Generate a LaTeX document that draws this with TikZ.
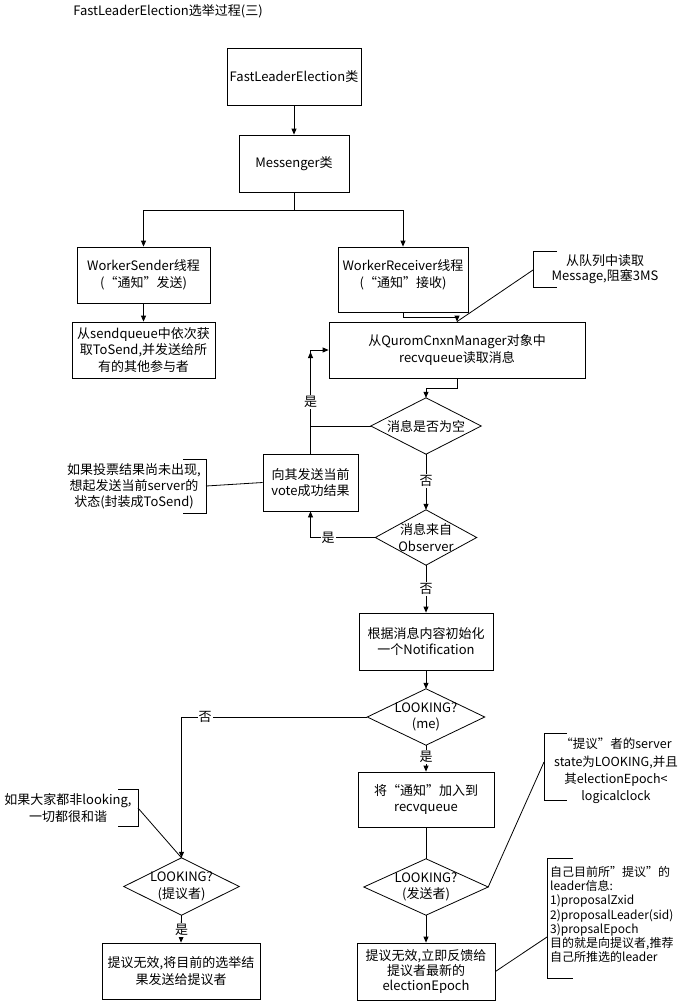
\documentclass[tikz,border=0pt]{standalone}
\usepackage{fontspec}
\setmainfont{Noto Sans CJK SC}
\usetikzlibrary{arrows.meta,shadows}
\begin{document}
\begin{tikzpicture}[x=1pt,y=-1pt,
  font=\fontsize{13}{16.5}\selectfont,
  box/.style={draw, line width=0.8pt, fill=white, align=center, inner sep=0pt,
    drop shadow={shadow xshift=0.6pt, shadow yshift=-1.2pt, fill=black!45, opacity=1}},
  dia/.style={align=center, inner sep=0pt},
  ann/.style={align=center, inner sep=0pt},
  lbl/.style={fill=white, inner sep=1pt},
  arr/.style={-{Triangle[length=6pt,width=5pt]}, line width=0.8pt},
  ln/.style={line width=0.8pt},
  brk/.style={line width=0.8pt}]
\useasboundingbox (0,0) rectangle (690,1001);
% title
\node (title) at (168,11) {FastLeaderElection选举过程(三)};
% boxes
\node[box, minimum width=134pt, minimum height=57pt] (fle) at (294,76.5) {FastLeaderElection类};
\node[box, minimum width=110pt, minimum height=57pt] (msg) at (294,163.5) {Messenger类};
\node[box, minimum width=133pt, minimum height=56pt] (ws) at (143.5,275) {WorkerSender线程\\(“通知”发送)};
\node[box, minimum width=130pt, minimum height=65pt] (wr) at (403,279.5) {};
\node[ann] (wrt) at (403,275) {WorkerReceiver线程\\(“通知”接收)};
\node[box, minimum width=143pt, minimum height=56pt] (sq) at (143.5,350) {从sendqueue中依次获\\取ToSend,并发送给所\\有的其他参与者};
\node[box, minimum width=256pt, minimum height=56pt] (qc) at (457,350) {从QuromCnxnManager对象中\\recvqueue读取消息};
\node[box, minimum width=95pt, minimum height=57pt] (vb) at (310.5,482.5) {向其发送当前\\vote成功结果};
\node[box, minimum width=134pt, minimum height=57pt] (ni) at (426,641.5) {根据消息内容初始化\\一个Notification};
\node[box, minimum width=158pt, minimum height=56pt] (r1) at (181,971) {提议无效,将目前的选举结\\果发送给提议者};
\node[box, minimum width=136pt, minimum height=55pt] (nr) at (426,799.5) {将“通知”加入到\\recvqueue};
\node[box, minimum width=138pt, minimum height=57pt, font=\fontsize{13}{15}\selectfont] (r2) at (426,971.5) {提议无效,立即反馈给\\提议者最新的\\electionEpoch};
% diamonds
\node[dia, minimum width=110pt, minimum height=56pt] (d1) at (426,426) {消息是否为空};
\node[dia, minimum width=101pt, minimum height=55pt] (d2) at (426,537.5) {消息来自\\Observer};
\node[dia, minimum width=117pt, minimum height=56pt] (d3) at (426,717) {LOOKING?\\(me)};
\node[dia, minimum width=115pt, minimum height=57pt] (d4) at (181.5,886.5) {LOOKING?\\(提议者)};
\node[dia, minimum width=124pt, minimum height=56pt] (d5) at (426,887) {LOOKING?\\(发送者)};
\foreach \n in {d1,d2,d3,d4,d5}
  \draw[ln] (\n.north) -- (\n.east) -- (\n.south) -- (\n.west) -- cycle;
% annotations
\node[ann, font=\fontsize{13}{15}\selectfont] (n1) at (605,269) {从队列中读取\\Message,阻塞3MS};
\draw[brk] (557,251) -- (533,251) -- (533,287) -- (557,287);
\coordinate (a1) at (533,270);
\node[ann, font=\fontsize{13}{16}\selectfont] (n2) at (134,486) {如果投票结果尚未出现,\\想起发送当前server的\\状态(封装成ToSend)};
\draw[brk] (183,459) -- (206,459) -- (206,513) -- (183,513);
\coordinate (a2) at (206,486);
\node[ann, font=\fontsize{13}{17}\selectfont] (n3) at (68,808) {如果大家都非looking,\\一切都很和谐};
\draw[brk] (118,789) -- (138,789) -- (138,826) -- (118,826);
\coordinate (a3) at (138,808);
\node[ann, font=\fontsize{12.5}{17.3}\selectfont] (n4) at (616,771) {“提议”者的server\\state为LOOKING,并且\\其electionEpoch<\\logicalclock};
\draw[brk] (567,733) -- (544,733) -- (544,800) -- (567,800);
\coordinate (a4) at (544,762);
\node[ann, align=left, anchor=west, font=\fontsize{12}{14.3}\selectfont] (n5) at (550,914.5) {自己目前所”提议”的\\leader信息:\\1)proposalZxid\\2)proposalLeader(sid)\\3)propsalEpoch\\目的就是向提议者,推荐\\自己所推选的leader};
\draw[brk] (573,858) -- (547,858) -- (547,978) -- (573,978);
\coordinate (a5) at (547,937);
% connectors
\draw[arr] (fle.south) -- (msg.north);
\coordinate (split) at (294,210);
\draw[ln] (msg.south) -- (split);
\draw[arr] (split) -| (ws.north);
\draw[arr] (split) -| (wr.north);
\draw[arr] (ws.south) -- (sq.north);
\draw[arr] (wr.south) -- ++(0,5) -| (qc.north);
\draw[ln] (a1) -- (qc.north);
\draw[arr] (qc.south) -- ++(0,10) -| (d1.north);
\draw[arr] (d1.south) -- (d2.north);
\draw[arr] (d2.south) -- (ni.north);
\coordinate (loopc) at (310.5,352);
\draw[arr] (vb.north) -- (loopc);
\draw[arr] (d1.west) -| (vb.north |- qc.west) -- (qc.west);
\draw[arr] (d2.west) -| (vb.south);
\draw[ln] (a2) -- (vb.west);
\draw[arr] (ni.south) -- (d3.north);
\draw[arr] (d3.west) -| (d4.north);
\draw[arr] (d4.south) -- (r1.north);
\draw[ln] (a3) -- (d4.north);
\draw[arr] (d3.south) -- (nr.north);
\draw[ln] (nr.south) -- (d5.north);
\draw[arr] (d5.south) -- (r2.north);
\draw[ln] (a4) -- (d5.east);
\draw[ln] (a5) -- (r2.east);
% labels
\node[lbl] (y1) at (310.5,402) {是};
\node[lbl] (no1) at (426,481) {否};
\node[lbl] (no2) at (426,589) {否};
\node[lbl] (y2) at (328,537.5) {是};
\node[lbl] (no3) at (205,717) {否};
\node[lbl] (y3) at (426,757) {是};
\node[lbl] (y4) at (181.5,930) {是};
\end{tikzpicture}
\end{document}
